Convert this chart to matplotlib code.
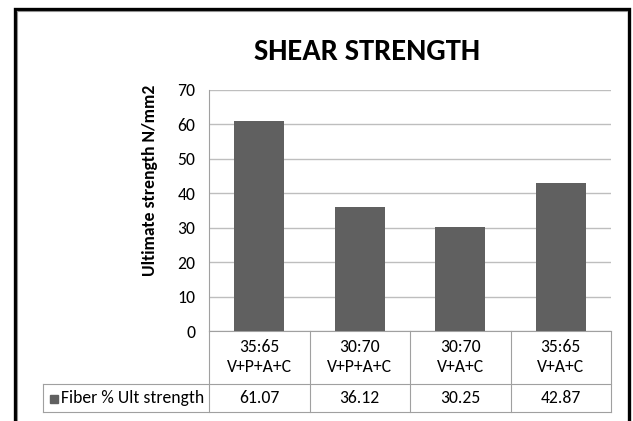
import matplotlib
matplotlib.use("Agg")
import matplotlib.pyplot as plt
from matplotlib.patches import Rectangle
from matplotlib.lines import Line2D
from matplotlib.transforms import blended_transform_factory

# shear strength per fibre mix
ratios = ["35:65", "30:70", "30:70", "35:65"]
mixes = ["V+P+A+C", "V+P+A+C", "V+A+C", "V+A+C"]
ult_strength = [61.07, 36.12, 30.25, 42.87]
series_name = "Fiber % Ult strength"
yticks = [0, 10, 20, 30, 40, 50, 60, 70]

plt.rcParams['font.family'] = ['Carlito', 'Liberation Sans Narrow', 'DejaVu Sans']
FS = 12.7

W, H = 633, 421
fig = plt.figure(figsize=(W / 100, H / 100), dpi=100)

def px(x, y):
    # pixel position (from top-left) -> figure fraction
    return x / W, 1 - y / H

# outer frame
fig.add_artist(Rectangle(px(14.5, 440), (629 - 14.5) / W, (440 - 8.5) / H,
                         transform=fig.transFigure, fill=False,
                         edgecolor='black', linewidth=2.4))
fig.add_artist(Line2D([16.5 / W, 627 / W], [1 - 10.5 / H] * 2, color='#909090', lw=0.8))
fig.add_artist(Line2D([16.5 / W] * 2, [0, 1 - 10.5 / H], color='#909090', lw=0.8))

ax_l, ax_r, ax_t, ax_b = 209, 611, 90, 331
ax = fig.add_axes([ax_l / W, 1 - ax_b / H, (ax_r - ax_l) / W, (ax_b - ax_t) / H])

x = list(range(len(ult_strength)))
ax.bar(x, ult_strength, width=0.5, color='#606060', zorder=3)
ax.set_xlim(-0.5, len(x) - 0.5)
ax.set_ylim(0, 70)
ax.set_yticks(yticks)
ax.set_xticks([])
ax.tick_params(axis='y', length=0, pad=10, labelsize=FS, colors='black')
ax.yaxis.grid(True, color='#BEBEBE', linewidth=1.0, zorder=0)
for s in ['top', 'right']:
    ax.spines[s].set_visible(False)
ax.spines['left'].set_color('#A0A0A0')
ax.spines['bottom'].set_color('#A0A0A0')
ax.spines['left'].set_linewidth(0.8)
ax.spines['bottom'].set_linewidth(0.8)

fig.text(*px(149.5, 180), "Ultimate strength N/mm2", fontsize=FS, fontweight='bold',
         rotation=90, ha='center', va='center')
fig.text(*px(367, 52), "SHEAR STRENGTH", fontsize=22, fontweight='bold',
         ha='center', va='center')

# data table under the axis
ah = ax_b - ax_t
row1 = -(384 - ax_b) / ah
row2 = -(412 - ax_b) / ah
trans = blended_transform_factory(ax.transData, ax.transAxes)
tcol = '#A0A0A0'
for i in range(len(x) + 1):
    ax.add_line(Line2D([i - 0.5] * 2, [0, row2], transform=trans, color=tcol,
                       lw=0.8, clip_on=False))
leg_x = (43 - ax_l) / (ax_r - ax_l)
ax.add_line(Line2D([leg_x, 1], [row1, row1], transform=ax.transAxes, color=tcol,
                   lw=0.8, clip_on=False))
ax.add_line(Line2D([leg_x, 1], [row2, row2], transform=ax.transAxes, color=tcol,
                   lw=0.8, clip_on=False))
ax.add_line(Line2D([leg_x, leg_x], [row1, row2], transform=ax.transAxes, color=tcol,
                   lw=0.8, clip_on=False))

for i, (r, m, v) in enumerate(zip(ratios, mixes, ult_strength)):
    ax.text(i, -(347 - ax_b) / ah, r, transform=trans, ha='center', va='center',
            fontsize=FS)
    ax.text(i, -(367 - ax_b) / ah, m, transform=trans, ha='center', va='center',
            fontsize=FS)
    ax.text(i, -(398 - ax_b) / ah, f"{v:.2f}", transform=trans, ha='center',
            va='center', fontsize=FS)

ax.add_patch(Rectangle(((50 - ax_l) / (ax_r - ax_l), -(403 - ax_b) / ah),
                       8 / (ax_r - ax_l), 8 / ah, transform=ax.transAxes,
                       color='#606060', clip_on=False))
ax.text((61 - ax_l) / (ax_r - ax_l), -(398 - ax_b) / ah, series_name,
        transform=ax.transAxes, ha='left', va='center', fontsize=FS)

fig.savefig("out.png", dpi=100)
